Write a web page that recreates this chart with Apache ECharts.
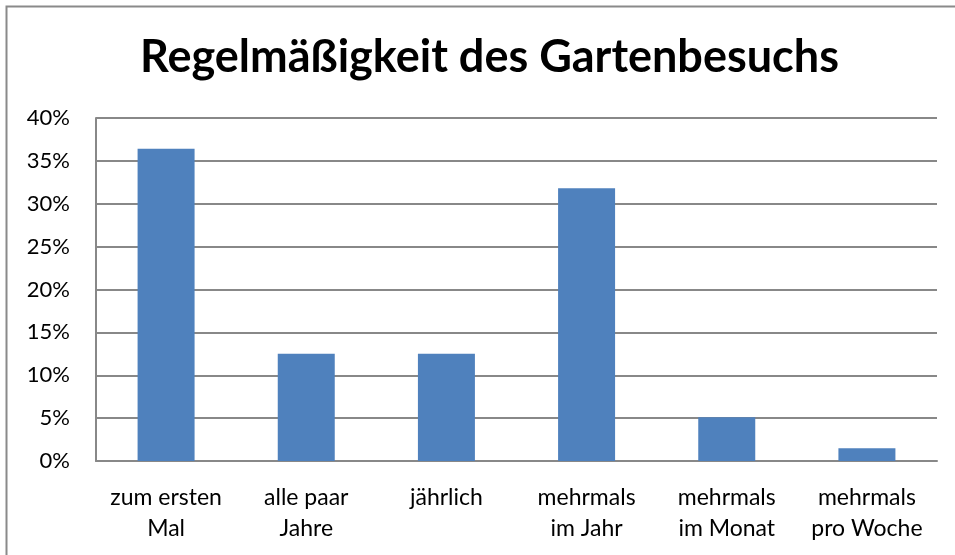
<!DOCTYPE html>
<html>
<head>
<meta charset="utf-8">
<script src="https://cdn.jsdelivr.net/npm/echarts@6/dist/echarts.min.js"></script>
<style>
html, body { margin: 0; padding: 0; background: #fff; }
#container { width: 955px; height: 555px; }
</style>
</head>
<body>
<div id="container"></div>
<script>
var categories = ['zum ersten\nMal', 'alle paar\nJahre', 'jährlich', 'mehrmals\nim Jahr', 'mehrmals\nim Monat', 'mehrmals\npro Woche'];
var values = [0.364, 0.125, 0.125, 0.318, 0.051, 0.015];

var dom = document.getElementById('container');
var myChart = echarts.init(dom);

var option = {
    animation: false,
    title: {
        text: 'Regelmäßigkeit des Gartenbesuchs',
        left: 135,
        top: 30,
        textStyle: {
            fontFamily: 'Lato',
            fontWeight: 'bold',
            fontSize: 45,
            color: '#000'
        }
    },
    graphic: [{
        type: 'rect',
        shape: { x: 6.5, y: 6.5, width: 1000, height: 600 },
        style: { fill: 'none', stroke: '#8a8a8a', lineWidth: 2 },
        silent: true
    }],
    grid: {
        left: 96,
        right: 18,
        top: 118,
        bottom: 94
    },
    xAxis: {
        type: 'category',
        data: categories,
        axisTick: { show: false },
        axisLine: { lineStyle: { color: '#888', width: 2 } },
        axisLabel: {
            margin: 21,
            interval: 0,
            fontFamily: 'Lato',
            fontSize: 23,
            lineHeight: 31,
            color: '#000'
        }
    },
    yAxis: {
        type: 'value',
        min: 0,
        max: 0.4,
        interval: 0.05,
        axisLine: { show: true, lineStyle: { color: '#888', width: 2 } },
        axisTick: { show: false },
        splitLine: { lineStyle: { color: '#888', width: 2 } },
        axisLabel: {
            margin: 26,
            fontFamily: 'Lato',
            fontSize: 22,
            color: '#000',
            formatter: function (v) {
                return Math.round(v * 100) + '%';
            }
        }
    },
    series: [{
        type: 'bar',
        data: values,
        barWidth: 57,
        itemStyle: { color: '#4f81bd' }
    }]
};

myChart.setOption(option);
</script>
</body>
</html>
